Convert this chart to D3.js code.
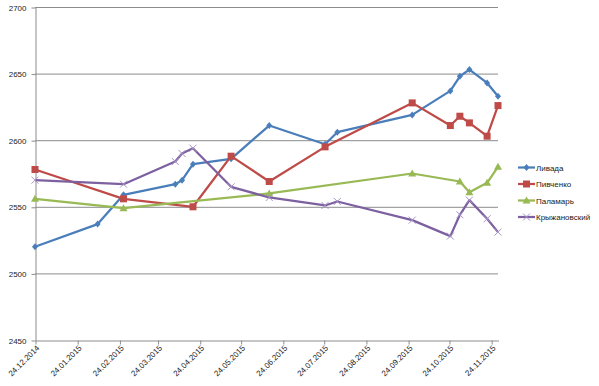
<!DOCTYPE html>
<html>
<head>
<meta charset="utf-8">
<script src="https://d3js.org/d3.v7.min.js"></script>
<style>
  body { margin: 0; background: #fff; }
  svg { font-family: "Liberation Sans", Arial, sans-serif; }
</style>
</head>
<body>
<svg id="chart" width="599" height="386"></svg>
<script>
// series names and colours
var names = ["Ливада", "Пивченко", "Паламарь", "Крыжановский"];
var colors = ["#4a7ebb", "#be4b48", "#98b954", "#7d60a0"];
var markers = ["diamond", "square", "triangle", "cross"];

// dates and values, one pair of arrays per series
var livadaDates = ["24.12.2014", "08.02.2015", "27.02.2015", "06.04.2015", "11.04.2015", "19.04.2015", "17.05.2015", "14.06.2015", "25.07.2015", "03.08.2015", "27.09.2015", "25.10.2015", "01.11.2015", "08.11.2015", "21.11.2015", "29.11.2015"];
var livadaValues = [2520, 2537, 2559, 2567, 2570, 2582, 2586, 2611, 2597, 2606, 2619, 2637, 2648, 2653, 2643, 2633];

var pivchenkoDates = ["24.12.2014", "27.02.2015", "19.04.2015", "17.05.2015", "14.06.2015", "25.07.2015", "27.09.2015", "25.10.2015", "01.11.2015", "08.11.2015", "21.11.2015", "29.11.2015"];
var pivchenkoValues = [2578, 2556, 2550, 2588, 2569, 2595, 2628, 2611, 2618, 2613, 2603, 2626];

var palamarDates = ["24.12.2014", "27.02.2015", "14.06.2015", "27.09.2015", "01.11.2015", "08.11.2015", "21.11.2015", "29.11.2015"];
var palamarValues = [2556, 2549, 2560, 2575, 2569, 2561, 2568, 2580];

var kryzhDates = ["24.12.2014", "27.02.2015", "06.04.2015", "11.04.2015", "19.04.2015", "17.05.2015", "14.06.2015", "25.07.2015", "03.08.2015", "27.09.2015", "25.10.2015", "01.11.2015", "08.11.2015", "21.11.2015", "29.11.2015"];
var kryzhValues = [2570, 2567, 2584, 2590, 2594, 2565, 2557, 2551, 2554, 2540, 2528, 2544, 2555, 2541, 2531];

// axis ticks
var xTickLabels = ["24.12.2014", "24.01.2015", "24.02.2015", "24.03.2015", "24.04.2015", "24.05.2015", "24.06.2015", "24.07.2015", "24.08.2015", "24.09.2015", "24.10.2015", "24.11.2015"];
var yTicks = [2450, 2500, 2550, 2600, 2650, 2700];

var parseDate = d3.timeParse("%d.%m.%Y");

var series = [
  {dates: livadaDates, values: livadaValues},
  {dates: pivchenkoDates, values: pivchenkoValues},
  {dates: palamarDates, values: palamarValues},
  {dates: kryzhDates, values: kryzhValues}
].map(function (s, i) {
  return {
    name: names[i],
    color: colors[i],
    marker: markers[i],
    points: s.dates.map(function (d, j) { return {date: parseDate(d), value: s.values[j]}; })
  };
});

var svg = d3.select("#chart");

var plotLeft = 35, plotRight = 498, plotTop = 7, plotBottom = 340;

var x = d3.scaleTime()
  .domain([parseDate("24.12.2014"), parseDate("29.11.2015")])
  .range([plotLeft, plotRight]);

var y = d3.scaleLinear()
  .domain([2450, 2700])
  .range([plotBottom, plotTop]);

// gridlines
svg.append("g")
  .selectAll("line")
  .data(yTicks.slice(1))
  .enter()
  .append("line")
    .attr("x1", plotLeft)
    .attr("x2", plotRight)
    .attr("y1", function (d) { return y(d) + 0.5; })
    .attr("y2", function (d) { return y(d) + 0.5; })
    .style("stroke", "#8c8c8c")
    .style("stroke-width", 1);

// y axis
var yAxis = svg.append("g")
  .attr("transform", "translate(" + (plotLeft + 0.5) + ",0.5)")
  .call(d3.axisLeft(y).tickValues(yTicks).tickSize(4).tickSizeOuter(0).tickFormat(d3.format("d")));
yAxis.select(".domain").style("stroke", "#8c8c8c");
yAxis.selectAll(".tick line").style("stroke", "#8c8c8c");
yAxis.selectAll("text")
  .attr("x", -9)
  .style("font-size", "8px")
  .style("fill", "#222");

// x axis
var xAxis = svg.append("g")
  .attr("transform", "translate(0.5," + (plotBottom + 0.5) + ")")
  .call(d3.axisBottom(x)
    .tickValues(xTickLabels.map(parseDate))
    .tickSize(4)
    .tickSizeOuter(0)
    .tickFormat(d3.timeFormat("%d.%m.%Y")));
xAxis.select(".domain").style("stroke", "#8c8c8c");
xAxis.selectAll(".tick line").style("stroke", "#8c8c8c");
xAxis.selectAll("text")
  .attr("y", 0)
  .attr("x", 0)
  .attr("dy", "0")
  .attr("transform", "translate(4,8) rotate(-45)")
  .style("text-anchor", "end")
  .style("font-size", "8px")
  .style("fill", "#222");

var line = d3.line()
  .x(function (d) { return x(d.date); })
  .y(function (d) { return y(d.value); });

function drawMarker(g, kind, color, cx, cy) {
  if (kind === "diamond") {
    g.append("path")
      .attr("d", "M" + cx + "," + (cy - 3.5) + "L" + (cx + 3) + "," + cy + "L" + cx + "," + (cy + 3.5) + "L" + (cx - 3) + "," + cy + "Z")
      .style("fill", color);
  } else if (kind === "square") {
    g.append("rect")
      .attr("x", cx - 3.5).attr("y", cy - 3.5)
      .attr("width", 7).attr("height", 7)
      .style("fill", color);
  } else if (kind === "triangle") {
    g.append("path")
      .attr("d", "M" + cx + "," + (cy - 4) + "L" + (cx + 4) + "," + (cy + 3) + "L" + (cx - 4) + "," + (cy + 3) + "Z")
      .style("fill", color);
  } else {
    g.append("path")
      .attr("d", "M" + (cx - 3.5) + "," + (cy - 3.5) + "L" + (cx + 3.5) + "," + (cy + 3.5) + "M" + (cx + 3.5) + "," + (cy - 3.5) + "L" + (cx - 3.5) + "," + (cy + 3.5))
      .style("stroke", "#a795c4")
      .style("stroke-width", 1)
      .style("fill", "none");
  }
}

series.forEach(function (s) {
  var g = svg.append("g");
  g.append("path")
    .datum(s.points)
    .attr("d", line)
    .style("fill", "none")
    .style("stroke", s.color)
    .style("stroke-width", 2.25)
    .style("stroke-linejoin", "round");
  s.points.forEach(function (p) {
    drawMarker(g, s.marker, s.color, x(p.date), y(p.value));
  });
});

// legend
var legend = svg.append("g")
  .selectAll("g")
  .data(series)
  .enter()
  .append("g")
    .attr("transform", function (d, i) { return "translate(518," + (167.5 + i * 16.5) + ")"; });

legend.append("line")
  .attr("x1", 0).attr("x2", 17)
  .style("stroke", function (d) { return d.color; })
  .style("stroke-width", 2.25);

legend.each(function (d) { drawMarker(d3.select(this), d.marker, d.color, 8.5, 0); });

legend.append("text")
  .attr("x", 18)
  .attr("y", 3)
  .text(function (d) { return d.name; })
  .style("font-size", "8px")
  .style("fill", "#222");
</script>
</body>
</html>
